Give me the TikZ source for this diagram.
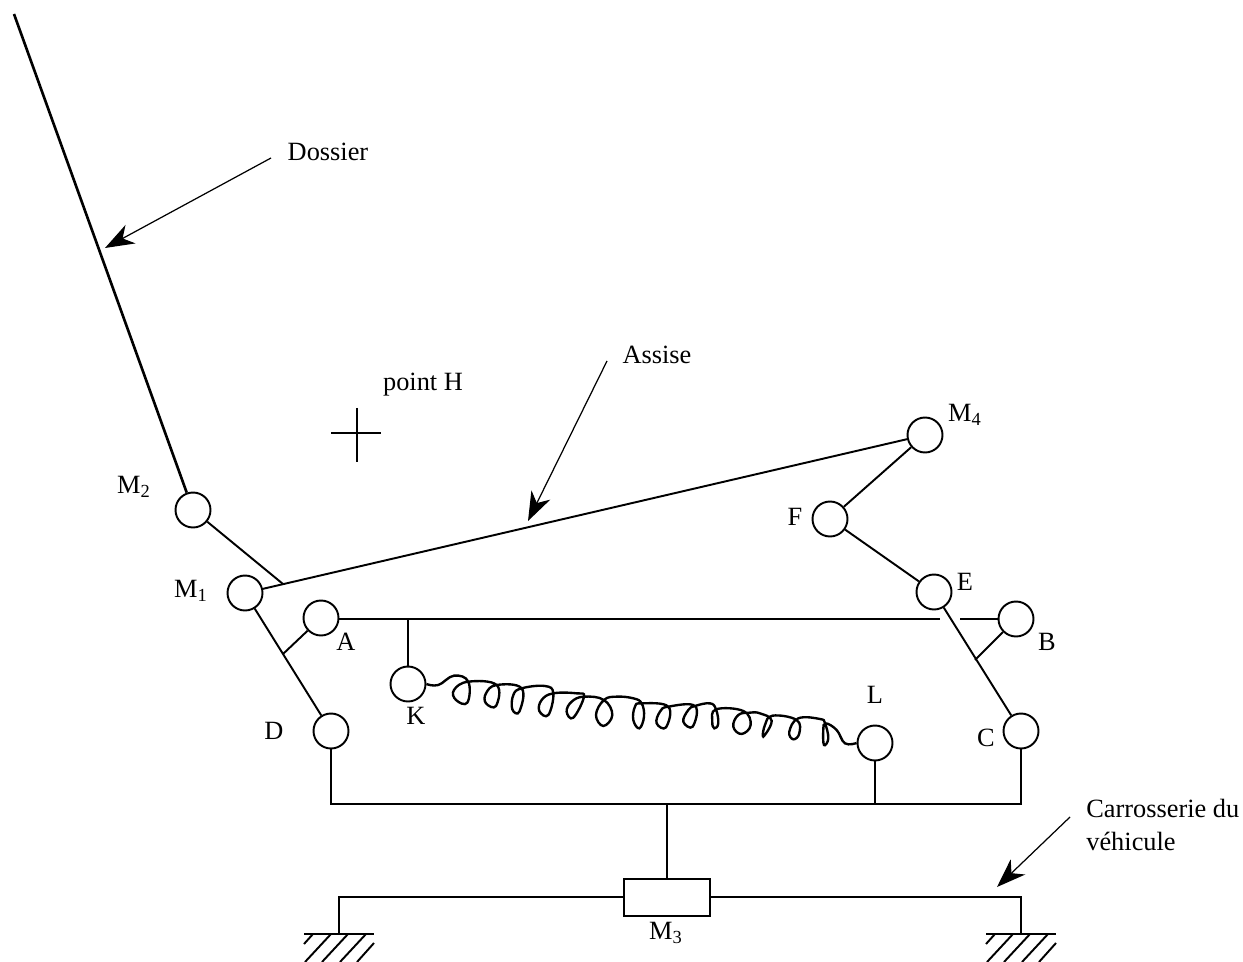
\documentclass[tikz,border=0pt]{standalone}
\usepackage{fontspec}
\setmainfont{Liberation Serif}
\usetikzlibrary{arrows.meta}

\begin{document}
\begin{tikzpicture}[
       x=0.02cm, y=-0.02cm,
       joint/.style={
         circle,
         draw=black,
         fill=white,
         line width=1.1pt,
         inner sep=0pt,
         minimum size=0.7cm},
       slider/.style={rectangle, draw, line width=1.2pt, inner sep=0pt, minimum width=1.72cm, minimum height=0.74cm},
       lbl/.style={inner sep=0pt, font=\fontsize{15}{17}\selectfont},
       bar/.style={line width=1.1pt},
       pointer/.style={line width=0.7pt, -{Stealth[length=0.58cm, width=0.42cm, inset=0.18cm]}}
      ]
      \useasboundingbox (0,0) rectangle (1243,962);

      \node[joint] (M2) at (193,510) {};
      \node[joint] (M1) at (245,593) {};
      \node[joint] (A) at (321,618) {};
      \node[joint] (K) at (408,684) {};
      \node[joint] (D) at (331,731) {};
      \node[joint] (L) at (875,743) {};
      \node[joint] (C) at (1021,731) {};
      \node[joint] (B) at (1016,619) {};
      \node[joint] (E) at (934,592) {};
      \node[joint] (F) at (830,519) {};
      \node[joint] (M4) at (925,435) {};
      \node[slider] (M3) at (667,897.5) {};

      \node[lbl] (lblDossier) at (328,152) {Dossier};
      \node[lbl] (lblAssise) at (657,355) {Assise};
      \node[lbl] (lblH) at (423,385) {point H};
      \node[lbl] (lblM2) at (134,487) {M\textsubscript{2}};
      \node[lbl] (lblM1) at (191,591) {M\textsubscript{1}};
      \node[lbl] (lblA) at (346,642) {A};
      \node[lbl] (lblK) at (416,716) {K};
      \node[lbl] (lblD) at (274,731) {D};
      \node[lbl] (lblL) at (875,695) {L};
      \node[lbl] (lblC) at (986,738) {C};
      \node[lbl] (lblB) at (1047,642) {B};
      \node[lbl] (lblE) at (965,582) {E};
      \node[lbl] (lblF) at (795,517) {F};
      \node[lbl] (lblM4) at (965,415) {M\textsubscript{4}};
      \node[lbl] (lblM3) at (666,933) {M\textsubscript{3}};
      \node[lbl,anchor=west] (lblBody) at (1086,808) {Carrosserie du};
      \node[lbl,anchor=west] (lblBody2) at (1086,841) {véhicule};

      \coordinate (top) at (14,14);
      \coordinate (seat) at (283,584);
      \coordinate (armA) at (283,654);
      \coordinate (armB) at (975,660);
      \coordinate (gapL) at (940,619);
      \coordinate (gapR) at (960,619);
      \coordinate (hangK) at (408,619);
      \coordinate (baseD) at (331,804);
      \coordinate (baseL) at (875,804);
      \coordinate (baseM) at (667,804);
      \coordinate (baseC) at (1021,804);
      \coordinate (railL) at (339,897);
      \coordinate (railR) at (1021,897);
      \coordinate (groundL) at (339,934);
      \coordinate (groundR) at (1021,934);

      \draw[line width=1.5pt] (top) -- (M2);
      \draw[bar] (M2) -- (seat);
      \draw[bar] (M1) -- (M4);
      \draw[bar] (M4) -- (F);
      \draw[bar] (F) -- (E);
      \draw[bar] (E) -- (C);
      \draw[bar] (M1) -- (D);
      \draw[bar] (A) -- (armA);
      \draw[bar] (B) -- (armB);
      \draw[bar] (A.east |- gapL) -- (gapL);
      \draw[bar] (gapR) -- (B);
      \draw[bar] (hangK) -- (K);
      \draw[bar] (D) |- (baseD) -- (baseC) -- (C);
      \draw[bar] (L) -- (baseL);
      \draw[bar] (baseM) -- (M3);
      \draw[bar] (groundL) -- (railL) -- (M3.west |- railL);
      \draw[bar] (M3.east |- railR) -- (railR) -- (groundR);

      % cross of point H
      \coordinate (crossW) at (331,433);
      \coordinate (crossE) at (381,433);
      \coordinate (crossN) at (357,408);
      \coordinate (crossS) at (357,462);
      \draw[bar] (crossW) -- (crossE);
      \draw[bar] (crossN) -- (crossS);

      % ground hatching
      \foreach \gx in {339,1021} {
        \begin{scope}[shift={(\gx,934)}]
          \draw[bar] (-35,0) -- (35,0);
          \draw[bar] (-26,0) -- (-35,10);
          \draw[bar] (-8,0) -- (-34,28);
          \draw[bar] (9,0) -- (-17,28);
          \draw[bar] (27,0) -- (1,28);
          \draw[bar] (35,9) -- (18,28);
        \end{scope}
      }

      \coordinate (hitBack) at (105,248);
      \coordinate (hitSeat) at (528,521);
      \coordinate (hitRail) at (997,887);
      \coordinate (fromBack) at (271,158);
      \coordinate (fromSeat) at (607,361);
      \coordinate (fromBody) at (1070,817);
      \draw[pointer] (fromBack) -- (hitBack);
      \draw[pointer] (fromSeat) -- (hitSeat);
      \draw[pointer] (fromBody) -- (hitRail);

      % spring between K and L
      \begin{scope}[shift={(380,650)},scale=0.3333]
        \draw[line width=1.35pt] plot[smooth,tension=0.7] coordinates {
          (K.east) (175,105) (222,77) (265,95) (262,158) (228,150) (222,120) (265,95)
          (350,105) (348,168) (318,160) (318,130) (350,105)
          (425,115) (418,185) (397,178) (400,135) (425,115) (495,108) (520,130)
          (505,195) (478,183) (485,150) (520,130) (590,130) (612,140)
          (580,203) (560,185) (575,155) (612,140) (672,150)
          (697,195) (670,228) (648,195) (672,150) (710,140) (760,145) (785,160)
          (792,200) (778,235) (760,210) (765,170) (785,160) (865,170)
          (858,232) (830,220) (840,185) (865,170) (945,168)
          (938,230) (910,215) (925,180) (945,168) (990,160) (1008,178)
          (1015,220) (1003,235) (997,215) (1008,178) (1090,183)
          (1112,225) (1085,252) (1060,230) (1075,195) (1110,188) (1140,190) (1175,212)
          (1150,260) (1155,225) (1178,197) (1250,210)
          (1258,250) (1240,268) (1228,245) (1255,205) (1320,207) (1335,220)
          (1345,265) (1332,285) (1330,240) (1337,220) (1370,240) (1395,280) (L.west)
        };
      \end{scope}

\end{tikzpicture}
\end{document}
